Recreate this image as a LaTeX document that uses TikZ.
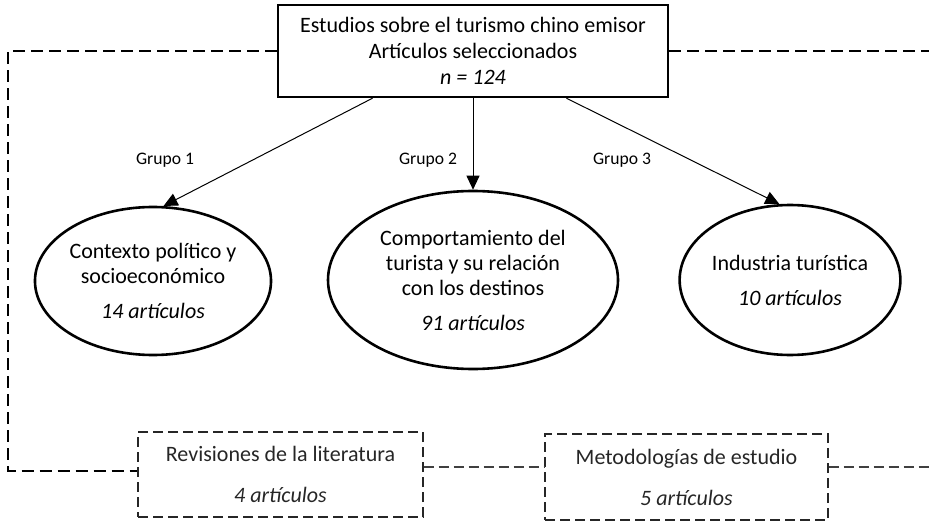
\documentclass[tikz,border=0pt]{standalone}
\usepackage{fontspec}
\setmainfont{Carlito}
\usetikzlibrary{shapes.geometric,arrows.meta,calc}

\begin{document}
\begin{tikzpicture}[x=0.5pt,y=-0.5pt,
  every node/.style={font=\fontsize{11}{12.5}\selectfont,align=center,inner sep=0pt},
  mainbox/.style={draw,line width=1.2pt,minimum width=195pt,minimum height=46pt},
  topic/.style={ellipse,draw,fill=white,line width=1.3pt},
  extrabox/.style={draw,black!85,line width=0.7pt,dash pattern=on 5pt off 2.5pt},
  frame/.style={line width=1pt,dash pattern=on 6pt off 3pt},
  thinframe/.style={black!75,line width=0.7pt,dash pattern=on 5pt off 2.5pt},
  group/.style={-{Triangle[length=7pt,width=6.5pt]},line width=0.5pt},
  grouplabel/.style={font=\fontsize{8.8}{10}\selectfont}]
\useasboundingbox (0,0) rectangle (929,523);

% source box
\node[mainbox] (src) at (473,51)
  {Estudios sobre el turismo chino emisor\\[0.5pt]Artículos seleccionados\\[0.5pt]\textit{n = 124}};

% the three groups
\node[topic,minimum width=109pt,minimum height=74pt] (ctx) at (153,281)
  {Contexto político y\\socioeconómico\\[5pt]\textit{14 artículos}};
\node[topic,minimum width=145pt,minimum height=89pt] (beh) at (473,280)
  {Comportamiento del\\turista y su relación\\con los destinos\\[5pt]\textit{91 artículos}};
\node[topic,minimum width=108pt,minimum height=75pt] (ind) at (790,280)
  {Industria turística\\[5pt]\textit{10 artículos}};

\draw[group] ($(src.south west)!0.244!(src.south east)$) -- (ctx.82);
\draw[group] (src.south) -- (beh.north);
\draw[group] ($(src.south west)!0.738!(src.south east)$) -- (ind.98);

\node[grouplabel] (g1) at (165,160) {Grupo 1};
\node[grouplabel] (g2) at (428,160) {Grupo 2};
\node[grouplabel] (g3) at (622,160) {Grupo 3};

% transversal studies
\node[extrabox,minimum width=142.5pt,minimum height=42.5pt] (rev) at (280.5,474.5)
  {Revisiones de la literatura\\[8pt]\textit{4 artículos}};
\node[extrabox,minimum width=141.5pt,minimum height=43pt] (met) at (686.5,477)
  {Metodologías de estudio\\[8pt]\textit{5 artículos}};

\coordinate (corner) at (8,51);
\coordinate (topend) at (929,51);
\coordinate (lowend) at (929,467);

\draw[frame] (src.west) -- (corner) |- ([yshift=2pt]rev.west);
\draw[frame] (src.east) -- (topend);
\draw[thinframe] ([yshift=3.75pt]rev.east) -- ([yshift=3.75pt]rev.east -| met.west);
\draw[thinframe] (met.east |- lowend) -- (lowend);

\end{tikzpicture}
\end{document}
